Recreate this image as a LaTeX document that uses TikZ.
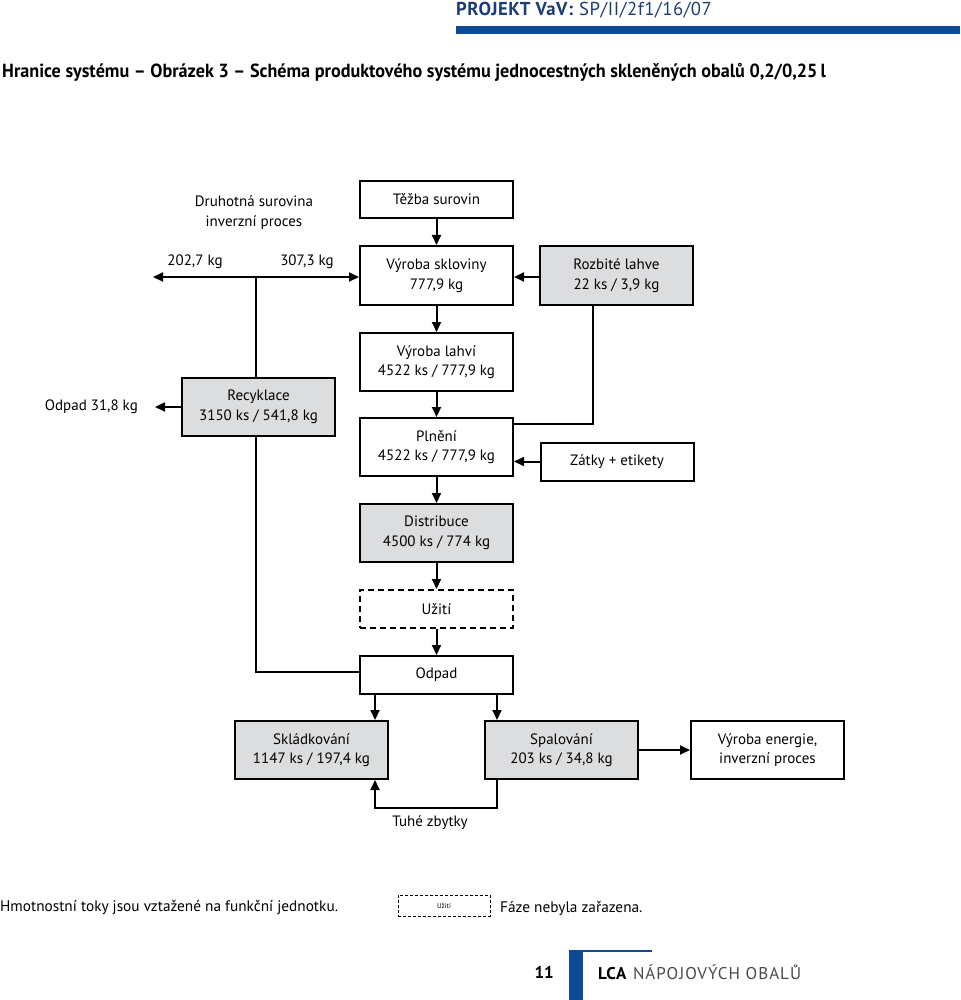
\documentclass[tikz,border=0pt]{standalone}
\usepackage{fontspec}
\usepackage{graphicx}
\setmainfont{PT Sans}
\newfontfamily\trackfont[LetterSpace=6]{PT Sans}
\newfontfamily\hdrfont[LetterSpace=3]{PT Sans}
\usetikzlibrary{arrows.meta,calc}
\definecolor{boxgray}{HTML}{DCDDDF}
\definecolor{hblue}{HTML}{0D4A96}
\definecolor{htext}{HTML}{1C3C78}
\definecolor{ftgray}{HTML}{4A4A4A}
\tikzset{
  procbox/.style={draw, line width=2pt, minimum width=153pt, inner sep=0pt, align=center, font=\fontsize{15}{19.5}\selectfont},
  graybox/.style={procbox, fill=boxgray},
  dashbox/.style={procbox, dash pattern=on 6pt off 4pt},
  flow/.style={line width=2pt},
  arr/.style={flow, -{Triangle[length=10pt,width=9pt]}},
  lbl/.style={inner sep=0pt, align=center, font=\fontsize{15}{19.5}\selectfont}
}
\begin{document}
\begin{tikzpicture}[x=1pt,y=-1pt]
\useasboundingbox (0,0) rectangle (960,1000);
% header
\node[anchor=west, inner sep=0pt, text=htext, font=\fontsize{18.7}{20}\hdrfont] (hdr) at (456,10) {\textbf{PROJEKT VaV:} SP/II/2f1/16/07};
\fill[hblue] (456,26) rectangle (960,34);
\node[anchor=west, inner sep=0pt, font=\fontsize{19}{22}\selectfont\bfseries] (title) at (2,72) {\scalebox{0.955}[1]{Hranice systému – Obrázek 3 – Schéma produktového systému jednocestných skleněných obalů 0,2/0,25\,l}};
% boxes
\node[procbox, minimum height=37pt] (tezba) at (436.5,199.5) {Těžba surovin};
\node[procbox, minimum height=59pt] (sklo) at (436.5,275.5) {Výroba skloviny\\777,9 kg};
\node[graybox, minimum height=59pt] (rozb) at (616.5,275.5) {Rozbité lahve\\22 ks / 3,9 kg};
\node[procbox, minimum height=58pt] (lahve) at (436.5,362) {Výroba lahví\\4522 ks / 777,9 kg};
\node[graybox, minimum height=58pt] (recy) at (258.5,407) {Recyklace\\3150 ks / 541,8 kg};
\node[procbox, minimum height=58pt] (plneni) at (436.5,447) {Plnění\\4522 ks / 777,9 kg};
\node[procbox, minimum height=38pt] (zatky) at (617,461.5) {Zátky + etikety};
\node[graybox, minimum height=58pt] (distr) at (436.5,533) {Distribuce\\4500 ks / 774 kg};
\node[dashbox, minimum height=38pt] (uziti) at (436.5,609) {Užití};
\node[procbox, minimum height=38pt] (odpad) at (436.5,675) {Odpad};
\node[graybox, minimum height=58pt] (sklad) at (311.5,750) {Skládkování\\1147 ks / 197,4 kg};
\node[graybox, minimum height=58pt] (spal) at (561.5,750) {Spalování\\203 ks / 34,8 kg};
\node[procbox, minimum height=58pt] (energ) at (767.5,750) {Výroba energie,\\inverzní proces};
% labels
\node[lbl] (druh) at (254,212.5) {Druhotná surovina\\inverzní proces};
\node[lbl] (m1) at (195,262) {202,7 kg};
\node[lbl] (m2) at (307,262) {307,3 kg};
\node[lbl, anchor=east] (odp31) at (138,407) {Odpad 31,8 kg};
\node[lbl] (tuhe) at (430,823) {Tuhé zbytky};
% coordinates
\coordinate (jn) at (256,277);
\coordinate (outl) at (153,277);
\coordinate (outo) at (155,407);
\coordinate (xl) at (375,700);
\coordinate (xr) at (497,700);
\coordinate (tz) at (375,808);
% main chain
\draw[arr] (tezba) -- (sklo);
\draw[arr] (sklo) -- (lahve);
\draw[arr] (lahve) -- (plneni);
\draw[arr] (plneni) -- (distr);
\draw[arr] (distr) -- (uziti);
\draw[arr] (uziti) -- (odpad);
% side flows
\draw[arr] (rozb.west |- jn) -- (sklo.east |- jn);
\draw[flow] ($(plneni.north east)+(0,7)$) -| ($(rozb.south)+(-23.5,0)$);
\draw[arr] (zatky.west) -- (zatky.west -| plneni.east);
\draw[arr] (recy.west |- outo) -- (outo);
\draw[arr] (jn) -- (sklo.west |- jn);
\draw[arr] (jn) -- (outl);
\draw[flow] (jn) -- (jn |- recy.north);
\draw[flow] (jn |- recy.south) |- ($(odpad.west)+(0,-3)$);
\draw[arr] (xl |- odpad.south) -- (xl |- sklad.north);
\draw[arr] (xr |- odpad.south) -- (xr |- spal.north);
\draw[arr] (xr |- spal.south) |- (tz) -- (xl |- sklad.south);
\draw[arr] (spal) -- (energ);
% legend
\node[anchor=west, inner sep=0pt, font=\fontsize{15.3}{17}\selectfont] (leg1) at (0,908) {Hmotnostní toky jsou vztažené na funkční jednotku.};
\node[draw, line width=1pt, dash pattern=on 3pt off 2pt, minimum width=92pt, minimum height=21pt, inner sep=0pt, font=\fontsize{7}{8}\selectfont] (legbox) at (444,905.5) {Užití};
\node[anchor=west, inner sep=0pt, font=\fontsize{15.3}{17}\selectfont] (leg2) at (500,908) {Fáze nebyla zařazena.};
% footer
\node[anchor=east, inner sep=0pt, font=\fontsize{17}{18}\selectfont\bfseries] (pg) at (554,972) {11};
\fill[hblue] (569,950) rectangle (583,1000);
\fill[hblue] (583,950) rectangle (652,952);
\node[anchor=west, inner sep=0pt, text=ftgray, font=\fontsize{17}{18}\trackfont] (ft) at (598,972) {\textcolor{black}{\textbf{LCA}} NÁPOJOVÝCH OBALŮ};
\end{tikzpicture}
\end{document}
